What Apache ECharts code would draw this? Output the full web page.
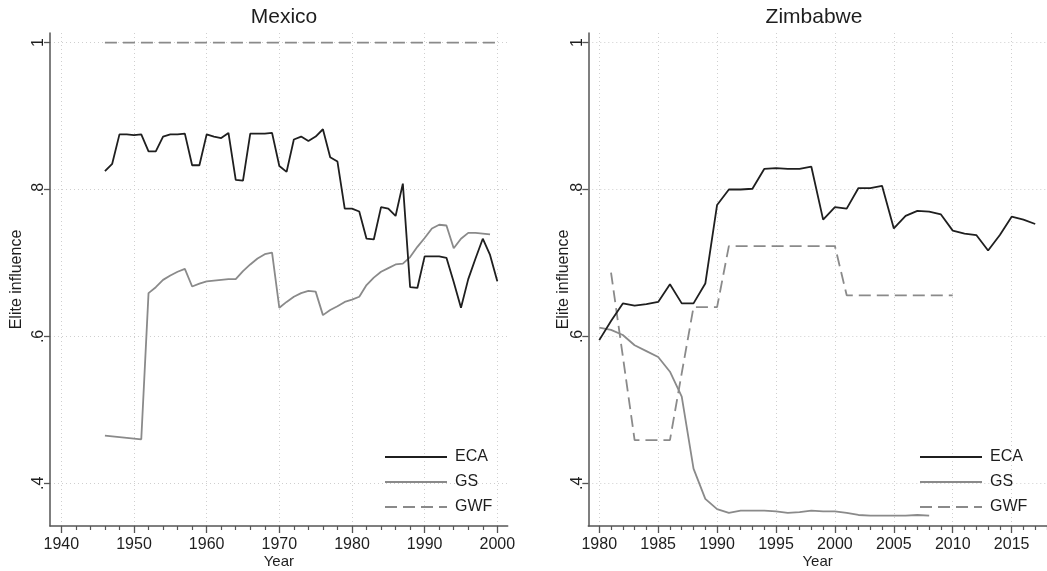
<!DOCTYPE html>
<html>
<head>
<meta charset="utf-8">
<script src="https://cdn.jsdelivr.net/npm/echarts@6/dist/echarts.min.js"></script>
<style>html,body{margin:0;padding:0;background:#fff}#c{width:1047px;height:571px}</style>
</head>
<body>
<div id="c"></div>
<script>
// ---------- DATA ----------
const panelTitles = ['Mexico', 'Zimbabwe'];
const seriesNames = ['ECA', 'GS', 'GWF'];
const yTickValues = [0.4, 0.6, 0.8, 1];
const yTickLabels = ['.4', '.6', '.8', '1'];

const mexXMajor = [1940, 1950, 1960, 1970, 1980, 1990, 2000];
const zimXMajor = [1980, 1985, 1990, 1995, 2000, 2005, 2010, 2015];

const mexStart = 1946;
const mexECA = [0.825, 0.835, 0.875, 0.875, 0.874, 0.875, 0.852, 0.852, 0.872, 0.875,
  0.875, 0.876, 0.833, 0.833, 0.875, 0.872, 0.870, 0.877, 0.813, 0.812,
  0.876, 0.876, 0.876, 0.877, 0.832, 0.824, 0.868, 0.872, 0.866, 0.872,
  0.882, 0.844, 0.838, 0.774, 0.774, 0.770, 0.733, 0.732, 0.776, 0.774,
  0.764, 0.808, 0.667, 0.666, 0.709, 0.709, 0.709, 0.707, 0.674, 0.639,
  0.678, 0.706, 0.733, 0.711, 0.675];
const mexGS = [0.465, 0.464, 0.463, 0.462, 0.461, 0.460, 0.659, 0.667, 0.677, 0.683,
  0.688, 0.692, 0.668, 0.672, 0.675, 0.676, 0.677, 0.678, 0.678, 0.689,
  0.698, 0.706, 0.712, 0.714, 0.639, 0.647, 0.654, 0.659, 0.662, 0.661,
  0.629, 0.636, 0.641, 0.647, 0.650, 0.654, 0.670, 0.680, 0.688, 0.693,
  0.698, 0.699, 0.708, 0.722, 0.734, 0.747, 0.752, 0.751, 0.720, 0.733,
  0.741, 0.741, 0.740, 0.739];
const mexGWF = [1, 1, 1, 1, 1, 1, 1, 1, 1, 1, 1, 1, 1, 1, 1, 1, 1, 1, 1, 1,
  1, 1, 1, 1, 1, 1, 1, 1, 1, 1, 1, 1, 1, 1, 1, 1, 1, 1, 1, 1,
  1, 1, 1, 1, 1, 1, 1, 1, 1, 1, 1, 1, 1, 1, 1];

const zimStart = 1980;
const zimECA = [0.595, 0.621, 0.645, 0.642, 0.644, 0.647, 0.671, 0.645, 0.645, 0.672,
  0.779, 0.800, 0.800, 0.801, 0.828, 0.829, 0.828, 0.828, 0.831, 0.759,
  0.776, 0.774, 0.802, 0.802, 0.805, 0.747, 0.764, 0.771, 0.770, 0.766,
  0.744, 0.740, 0.738, 0.717, 0.738, 0.763, 0.759, 0.753];
const zimGS = [0.612, 0.609, 0.602, 0.588, 0.580, 0.572, 0.552, 0.518, 0.420, 0.379,
  0.365, 0.360, 0.363, 0.363, 0.363, 0.362, 0.360, 0.361, 0.363, 0.362,
  0.362, 0.360, 0.357, 0.356, 0.356, 0.356, 0.356, 0.357, 0.356];
const zimGWFStart = 1981;
const zimGWF = [0.687, 0.573, 0.459, 0.459, 0.459, 0.459, 0.550, 0.640, 0.640, 0.640,
  0.723, 0.723, 0.723, 0.723, 0.723, 0.723, 0.723, 0.723, 0.723, 0.723,
  0.656, 0.656, 0.656, 0.656, 0.656, 0.656, 0.656, 0.656, 0.656, 0.656];

// ---------- BUILD ----------
function pairs(start, vals) { return vals.map((v, i) => [start + i, v]); }
function range(a, b, step) { const r = []; for (let v = a; v <= b + 1e-9; v += step) r.push(v); return r; }

const mexMinor = range(1940, 2000, 2).filter(v => v % 10 !== 0);
const zimMinor = range(1980, 2018, 1).filter(v => v % 5 !== 0);

const FONT = 'Liberation Sans, Arial, sans-serif';
const TXT = '#1e1e1e';
const AXIS = '#555';
const DARK = '#1f1f1f';
const GREY = '#8a8a8a';

const grids = [
  { left: 50, width: 457.7, top: 33, bottom: 45, containLabel: false, outerBoundsMode: 'none' },
  { left: 588.3, width: 458.7, top: 33, bottom: 45, containLabel: false, outerBoundsMode: 'none' }
];
const xr = [[1938.44, 2001.43], [1979.07, 2018.0]];

function majorX(i, vals) {
  return {
    type: 'value', gridIndex: i, position: 'bottom', min: xr[i][0], max: xr[i][1],
    name: 'Year', nameLocation: 'middle', nameGap: 28, nameMoveOverlap: false,
    nameTextStyle: { fontFamily: FONT, fontSize: 15, color: TXT },
    axisLine: { show: true, onZero: false, lineStyle: { color: AXIS, width: 1.5 } },
    axisTick: { show: true, inside: false, length: 7, customValues: vals, lineStyle: { color: AXIS, width: 1.3 } },
    axisLabel: { show: true, customValues: vals, margin: 11, fontFamily: FONT, fontSize: 16, color: TXT, formatter: v => String(v) },
    splitLine: { show: true, lineStyle: { color: '#cfcfcf', width: 1, type: [1, 3] } }
  };
}
function minorX(i, vals) {
  return {
    type: 'value', gridIndex: i, position: 'bottom', min: xr[i][0], max: xr[i][1],
    axisLine: { show: false, onZero: false },
    axisTick: { show: true, inside: false, length: 4, customValues: vals, lineStyle: { color: AXIS, width: 1.2 } },
    axisLabel: { show: false },
    splitLine: { show: false }
  };
}
function yAx(i, gap, margin) {
  return {
    type: 'value', gridIndex: i, min: 0.342, max: 1.013,
    name: 'Elite influence', nameLocation: 'middle', nameGap: gap, nameMoveOverlap: false,
    nameTextStyle: { fontFamily: FONT, fontSize: 16, color: TXT },
    axisLine: { show: true, onZero: false, lineStyle: { color: AXIS, width: 1.5 } },
    axisTick: { show: true, inside: false, length: 6, customValues: yTickValues, lineStyle: { color: AXIS, width: 1.3 } },
    axisLabel: { show: true, customValues: yTickValues, rotate: 90, margin: margin, fontFamily: FONT, fontSize: 16, color: TXT,
      formatter: v => yTickLabels[yTickValues.findIndex(t => Math.abs(t - v) < 1e-6)] || '' },
    splitLine: { show: true, lineStyle: { color: '#cfcfcf', width: 1, type: [1, 3] } }
  };
}

function lineSeries(name, xi, data, color, dashed, w) {
  return {
    name, type: 'line', xAxisIndex: xi, yAxisIndex: xi < 2 ? 0 : 1, data,
    symbol: 'none', showSymbol: false, animation: false, silent: true,
    lineStyle: { color, width: w, type: dashed ? [12, 6] : 'solid' },
    itemStyle: { color }
  };
}

function legendAt(left) {
  return {
    data: seriesNames, orient: 'vertical', left: left, top: 444, itemWidth: 62, itemHeight: 14, itemGap: 9,
    selectedMode: false, itemStyle: { opacity: 0 },
    textStyle: { fontFamily: FONT, fontSize: 16, color: TXT, padding: [0, 0, 0, 3] }
  };
}

const option = {
  backgroundColor: '#fff',
  animation: false,
  title: [
    { text: panelTitles[0], left: 279, top: 2, textAlign: 'center', textStyle: { fontFamily: FONT, fontSize: 21, fontWeight: 'normal', color: TXT } },
    { text: panelTitles[1], left: 809, top: 2, textAlign: 'center', textStyle: { fontFamily: FONT, fontSize: 21, fontWeight: 'normal', color: TXT } }
  ],
  grid: grids,
  xAxis: [majorX(0, mexXMajor), minorX(0, mexMinor), majorX(1, zimXMajor), minorX(1, zimMinor)],
  yAxis: [yAx(0, 25, 3), yAx(1, 17, 3)],
  legend: [legendAt(379), legendAt(914)],
  series: [
    lineSeries('GWF', 0, pairs(mexStart, mexGWF), GREY, true, 1.8),
    lineSeries('GS', 0, pairs(mexStart, mexGS), GREY, false, 1.8),
    lineSeries('ECA', 0, pairs(mexStart, mexECA), DARK, false, 1.8),
    lineSeries('GWF', 2, pairs(zimGWFStart, zimGWF), GREY, true, 1.8),
    lineSeries('GS', 2, pairs(zimStart, zimGS), GREY, false, 1.8),
    lineSeries('ECA', 2, pairs(zimStart, zimECA), DARK, false, 1.8)
  ]
};
const chart = echarts.init(document.getElementById('c'), null, { renderer: 'canvas' });
chart.setOption(option);
</script>
</body>
</html>
